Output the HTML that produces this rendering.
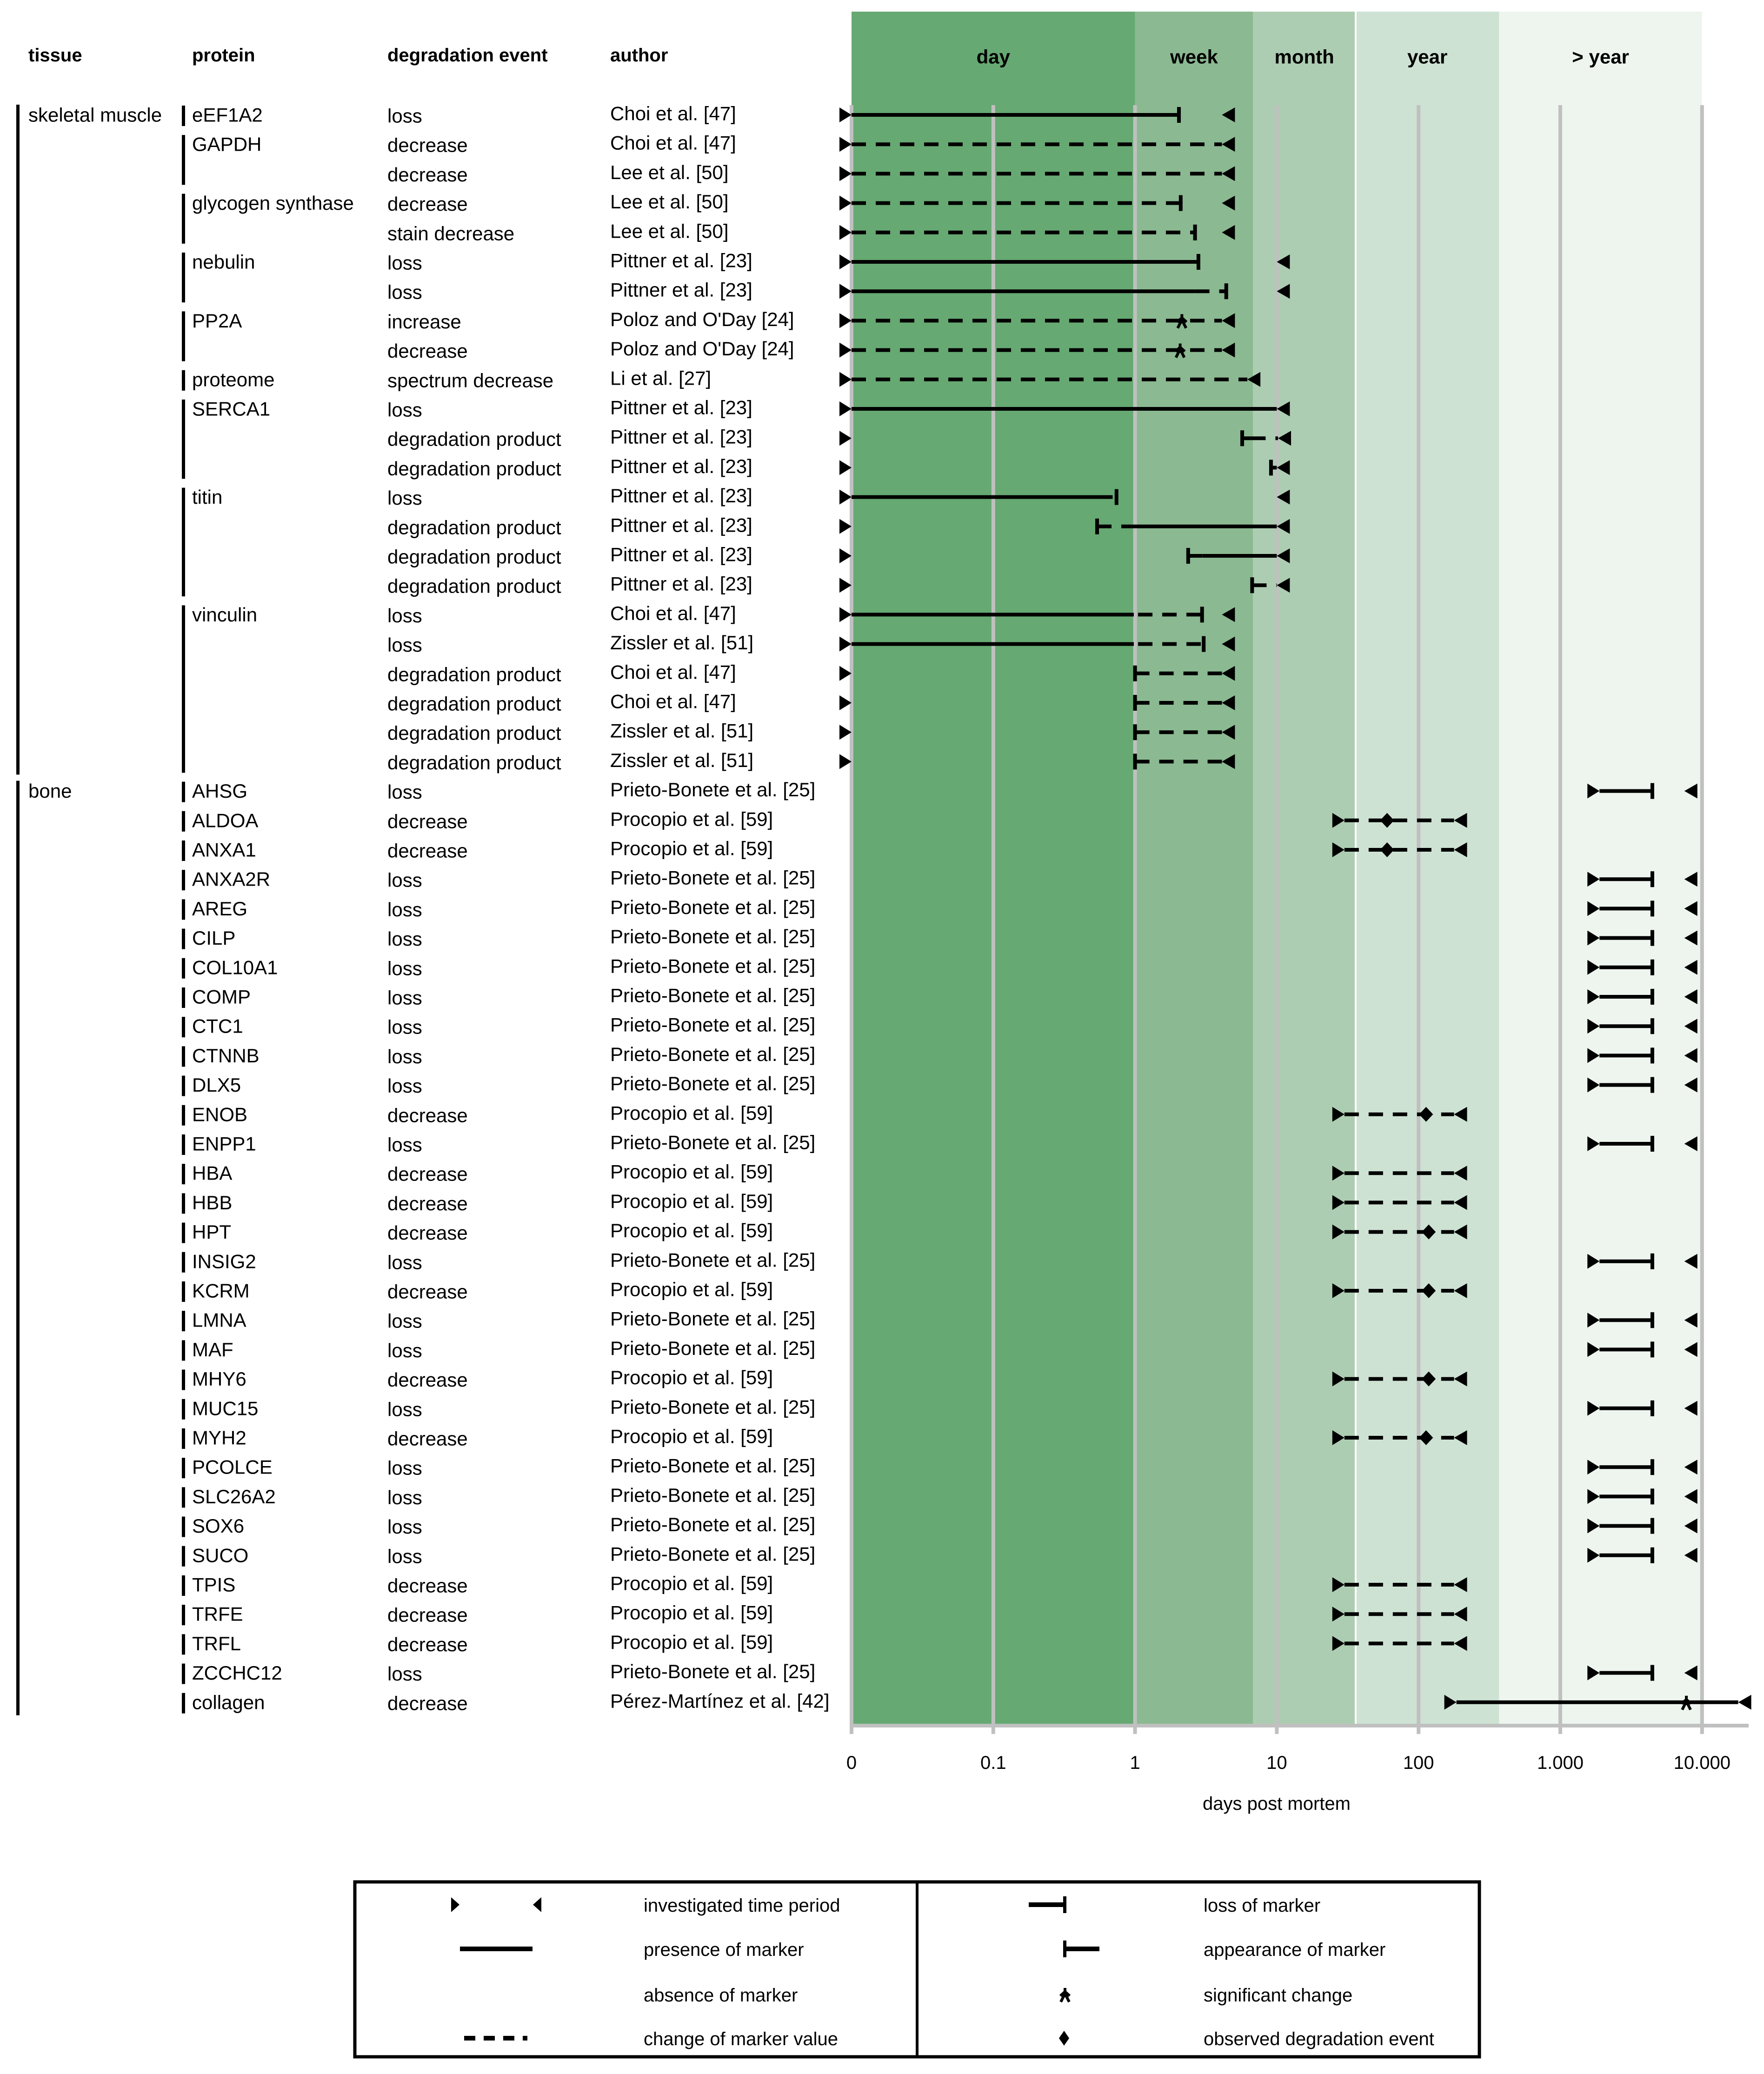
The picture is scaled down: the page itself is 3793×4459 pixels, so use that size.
<!DOCTYPE html>
<html><head><meta charset="utf-8"><style>
html,body{margin:0;padding:0;background:#fff;}
svg{display:block;font-family:"Liberation Sans",Arial,sans-serif;}
</style></head><body>
<svg id="chart" xmlns="http://www.w3.org/2000/svg" width="3793" height="4459" viewBox="0 0 3793 4459"></svg>
<script>
// ---- data ----
const tissues = ["skeletal muscle","bone"];
const tissueRowCounts = [23,32];
const proteins = ["eEF1A2","GAPDH","glycogen synthase","nebulin","PP2A","proteome","SERCA1","titin","vinculin","AHSG","ALDOA","ANXA1","ANXA2R","AREG","CILP","COL10A1","COMP","CTC1","CTNNB","DLX5","ENOB","ENPP1","HBA","HBB","HPT","INSIG2","KCRM","LMNA","MAF","MHY6","MUC15","MYH2","PCOLCE","SLC26A2","SOX6","SUCO","TPIS","TRFE","TRFL","ZCCHC12","collagen"];
const proteinRowCounts = [1,2,2,2,2,1,3,4,6,1,1,1,1,1,1,1,1,1,1,1,1,1,1,1,1,1,1,1,1,1,1,1,1,1,1,1,1,1,1,1,1];
const PB="Prieto-Bonete et al. [25]", PR="Procopio et al. [59]", PI="Pittner et al. [23]";
const events = ["loss","decrease","decrease","decrease","stain decrease","loss","loss","increase","decrease","spectrum decrease","loss","degradation product","degradation product","loss","degradation product","degradation product","degradation product","loss","loss","degradation product","degradation product","degradation product","degradation product",
"loss","decrease","decrease","loss","loss","loss","loss","loss","loss","loss","loss","decrease","loss","decrease","decrease","decrease","loss","decrease","loss","loss","decrease","loss","decrease","loss","loss","loss","loss","decrease","decrease","decrease","loss","decrease"];
const authors = ["Choi et al. [47]","Choi et al. [47]","Lee et al. [50]","Lee et al. [50]","Lee et al. [50]",PI,PI,"Poloz and O'Day [24]","Poloz and O'Day [24]","Li et al. [27]",PI,PI,PI,PI,PI,PI,PI,"Choi et al. [47]","Zissler et al. [51]","Choi et al. [47]","Choi et al. [47]","Zissler et al. [51]","Zissler et al. [51]",
PB,PR,PR,PB,PB,PB,PB,PB,PB,PB,PB,PR,PB,PR,PR,PR,PB,PR,PB,PB,PR,PB,PR,PB,PB,PB,PB,PR,PR,PR,PB,"Pérez-Martínez et al. [42]"];
// investigated period (days); 0 represented as 0.01
const periodStart = [0.01,0.01,0.01,0.01,0.01,0.01,0.01,0.01,0.01,0.01,0.01,0.01,0.01,0.01,0.01,0.01,0.01,0.01,0.01,0.01,0.01,0.01,0.01,
1890,30,30,1890,1890,1890,1890,1890,1890,1890,1890,30,1890,30,30,30,1890,30,1890,1890,30,1890,30,1890,1890,1890,1890,30,30,30,1890,185];
const periodEnd = [4.1,4.1,4.1,4.1,4.1,10,10,4.1,4.1,6.2,10,10.2,10,10,10,10,10,4.1,4.1,4.1,4.1,4.1,4.1,
7500,178,178,7500,7500,7500,7500,7500,7500,7500,7500,178,7500,178,178,178,7500,178,7500,7500,178,7500,178,7500,7500,7500,7500,178,178,178,7500,18000];
// segments: [row, from, to, style] style s=solid d=dashed
const segRows = [0,1,2,3,4,5,6,6,7,8,9,10,11,11,12,13,13,14,14,15,15,16,17,17,18,18,19,20,21,22];
const segFrom = [0.01,0.01,0.01,0.01,0.01,0.01,0.01,2.65,0.01,0.01,0.01,0.01,5.7,6.6,9.1,0.01,0.55,0.54,0.8,2.37,3.0,6.7,0.01,1.05,0.01,1.05,1,1,1,1];
const segTo   = [2.04,4.1,4.1,2.1,2.65,2.8,2.65,4.4,4.1,4.1,6.2,10,6.6,10.2,10,0.55,0.74,0.8,10,3.0,10,10,0.98,2.97,0.98,3.05,4.1,4.1,4.1,4.1];
const segStyle= ["s","d","d","d","d","s","s","d","d","d","d","s","s","d","s","s","d","d","s","d","s","d","s","d","s","d","d","d","d","d"];
// bone rows
const boneLossRows = [23,26,27,28,29,30,31,32,33,35,39,41,42,44,46,47,48,49,53];
const boneLossAt = 4460;
const boneDashRows = [24,25,34,36,37,38,40,43,45,50,51,52];
// markers
const lossRows = [0,3,4,5,6,13,17,18];
const lossValues = [2.04,2.1,2.65,2.8,4.4,0.74,2.97,3.05];
const appearRows = [11,12,14,15,16,19,20,21,22];
const appearValues = [5.7,9.1,0.54,2.37,6.7,1,1,1,1];
const starRows = [7,8,54];
const starValues = [2.14,2.08,7750];
const diamondRows = [24,25,34,38,40,43,45];
const diamondValues = [60,60,113,118,118,118,113];
const tickLabels = ["0","0.1","1","10","100","1.000","10.000"];
const tickValues = [0.01,0.1,1,10,100,1000,10000];
const bandNames = ["day","week","month","year","> year"];
const bandEdges = [0.01,1,6.8,36,370,10000];
const bandColors = ["#66a972","#8bb991","#adcdb2","#cde2d3","#edf5ee"];

// ---- scales ----
const X0=1831, DEC=304.8;
function xs(d){return X0+(Math.log10(d)+2)*DEC;}
const Y0=247, PITCH=63.2;
function ys(i){return Y0+i*PITCH;}

const svg=document.getElementById('chart');
const NS="http://www.w3.org/2000/svg";
function mk(tag,attrs,parent){const e=document.createElementNS(NS,tag);for(const k in attrs)e.setAttribute(k,attrs[k]);(parent||svg).appendChild(e);return e;}
function txt(s,x,y,size,weight,anchor,parent){const t=mk('text',{x:x,y:y,'font-size':size,'font-weight':weight||'normal','text-anchor':anchor||'start','dominant-baseline':'central',fill:'#000'},parent);t.textContent=s;return t;}

// bands
const bandG=mk('g',{});


for(let i=0;i<bandNames.length;i++){
  const xa=xs(bandEdges[i]), xb=xs(bandEdges[i+1]);
  const r=mk('rect',{x:xa,y:25,width:xb-xa,height:3706-25,fill:bandColors[i]},bandG);
  
  
  const t=txt(bandNames[i],(xa+xb)/2,122,42,'bold','middle',bandG);
  
  
}
mk('rect',{x:xs(bandEdges[3])-2,y:25,width:4,height:3681,fill:'#fff'},bandG);
// grid + axis
const axG=mk('g',{});


for(let i=0;i<tickValues.length;i++){
  const x=xs(tickValues[i]);
  const gl=mk('rect',{x:x-4,y:226,width:8,height:3728-226,fill:'#c0c0c0'},axG);
  
  
  const tl=txt(tickLabels[i],x,3790,40,'normal','middle',axG);
  
  
}
mk('rect',{x:X0-4,y:3706,width:3760-X0+4,height:8,fill:'#c0c0c0'},axG);
const at=txt('days post mortem',2745,3878,40,'normal','middle',axG);



// headers
[['tissue',61],['protein',413],['degradation event',833],['author',1312]].forEach(h=>{
  const t=txt(h[0],h[1],119,40,'bold','start');
  
  
});

// tissue + protein labels
let r0=0;
tissues.forEach((tn,i)=>{
  const n=tissueRowCounts[i];
  const b=mk('rect',{x:35,y:ys(r0)-22,width:7,height:ys(r0+n-1)-ys(r0)+50,fill:'#000'});
  
  
  const t=txt(tn,61,ys(r0),42,'normal','start');
  
  
  r0+=n;
});
r0=0;
proteins.forEach((pn,i)=>{
  const n=proteinRowCounts[i];
  const b=mk('rect',{x:391,y:ys(r0)-20,width:7,height:ys(r0+n-1)-ys(r0)+44,fill:'#000'});
  
  
  const t=txt(pn,413,ys(r0),42,'normal','start');
  
  
  r0+=n;
});
events.forEach((e,i)=>{
  const t=txt(e,833,ys(i)+2,42,'normal','start');
  
  
});
authors.forEach((a,i)=>{
  const t=txt(a,1312,ys(i)-3,42,'normal','start');
  
  
});

// marks
const mg=mk('g',{});


function seg(x1,x2,y,style){
  const l=mk('line',{x1:x1,x2:x2,y1:y,y2:y,stroke:'#000','stroke-width':8},mg);
  if(style==='d') l.setAttribute('stroke-dasharray','31 21');
  
  
}
function triR(x,y){const p=mk('polygon',{points:`${x},${y} ${x-26},${y-16} ${x-26},${y+16}`,fill:'#000'},mg);
  
  }
function triL(x,y){const p=mk('polygon',{points:`${x},${y} ${x+28},${y-16} ${x+28},${y+16}`,fill:'#000'},mg);
  
  }
function vbar(x,y,name){const b=mk('rect',{x:x-4,y:y-17,width:8,height:34,fill:'#000'},mg);
  
  }
function star(x,y,parent){const g=mk('g',{stroke:'#000','stroke-width':6},parent||mg);
  const cy=y+6;
  mk('line',{x1:x,y1:cy-20,x2:x,y2:cy},g);
  mk('line',{x1:x-10,y1:cy-3,x2:x,y2:cy-12},g);
  mk('line',{x1:x+10,y1:cy-3,x2:x,y2:cy-12},g);
  mk('line',{x1:x-9,y1:cy+10,x2:x,y2:cy-8},g);
  mk('line',{x1:x+9,y1:cy+10,x2:x,y2:cy-8},g);
  
  }
function diamond(x,y){const p=mk('polygon',{points:`${x},${y-16} ${x+15},${y} ${x},${y+16} ${x-15},${y}`,fill:'#000'},mg);
  
  }

for(let i=0;i<segRows.length;i++) seg(xs(segFrom[i]),xs(segTo[i]),ys(segRows[i]),segStyle[i]);
boneLossRows.forEach(r=>{seg(xs(periodStart[r]),xs(boneLossAt),ys(r),'s');vbar(xs(boneLossAt),ys(r),'loss-marker');});
boneDashRows.forEach(r=>seg(xs(periodStart[r]),xs(periodEnd[r]),ys(r),'d'));
seg(xs(periodStart[54]),xs(periodEnd[54]),ys(54),'s');
for(let i=0;i<periodStart.length;i++){triR(xs(periodStart[i]),ys(i));triL(xs(periodEnd[i]),ys(i));}
lossRows.forEach((r,i)=>vbar(xs(lossValues[i]),ys(r),'loss-marker'));
appearRows.forEach((r,i)=>vbar(xs(appearValues[i]),ys(r),'appearance-marker'));
starRows.forEach((r,i)=>star(xs(starValues[i]),ys(r)));
diamondRows.forEach((r,i)=>diamond(xs(diamondValues[i]),ys(r)));

// legend
const lg=mk('g',{});


mk('rect',{x:763,y:4046,width:2418,height:376,fill:'none',stroke:'#000','stroke-width':7},lg);
mk('rect',{x:1969,y:4046,width:6,height:376,fill:'#000'},lg);
const LY=[4095,4190,4288,4382];
const leftLabels=["investigated time period","presence of marker","absence of marker","change of marker value"];
const rightLabels=["loss of marker","appearance of marker","significant change","observed degradation event"];
leftLabels.forEach((s,i)=>{const t=txt(s,1384,LY[i]+2,40,'normal','start',lg);
  
  });
rightLabels.forEach((s,i)=>{const t=txt(s,2588,LY[i]+2,40,'normal','start',lg);
  
  });
mk('polygon',{points:`${988},${LY[0]} ${970},${LY[0]-16} ${970},${LY[0]+16}`,fill:'#000'},lg);
mk('polygon',{points:`${1146},${LY[0]} ${1164},${LY[0]-16} ${1164},${LY[0]+16}`,fill:'#000'},lg);
mk('rect',{x:989,y:LY[1]-5,width:156,height:10,fill:'#000'},lg);
mk('line',{x1:998,x2:1134,y1:LY[3],y2:LY[3],stroke:'#000','stroke-width':10,'stroke-dasharray':'24 18'},lg);
mk('rect',{x:2212,y:LY[0]-5,width:78,height:10,fill:'#000'},lg);
mk('rect',{x:2286,y:LY[0]-18,width:7,height:36,fill:'#000'},lg);
mk('rect',{x:2286,y:LY[1]-18,width:7,height:36,fill:'#000'},lg);
mk('rect',{x:2290,y:LY[1]-5,width:74,height:10,fill:'#000'},lg);
star(2290,LY[2],lg);
mk('polygon',{points:`2288,${LY[3]-16} 2299,${LY[3]} 2288,${LY[3]+16} 2277,${LY[3]}`,fill:'#000'},lg);
</script>
</body></html>
